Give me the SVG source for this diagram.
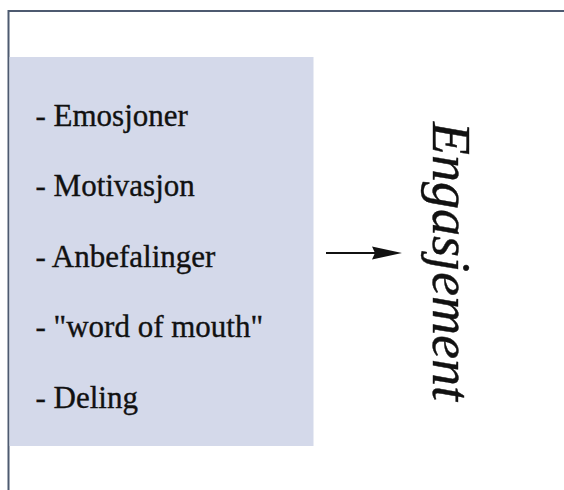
<svg xmlns="http://www.w3.org/2000/svg" width="564" height="490" viewBox="0 0 564 490">
  <style>
    .item { font-family: "Liberation Serif", "Times New Roman", serif; font-size: 31px; fill: #111111; stroke: #111111; stroke-width: 0.35; }
    .title { font-family: "Liberation Serif", "Times New Roman", serif; font-size: 54px; font-style: italic; fill: #111111; stroke: #111111; stroke-width: 0.4; }
    .frame { stroke: #4d5a70; stroke-width: 2; fill: none; }
  </style>
  <rect x="0" y="0" width="564" height="490" fill="#ffffff"/>
  <!-- outer frame: top and left edges -->
  <path class="frame" d="M8.5 490 V11 H564"/>
  <g id="factors">
    <rect x="9.5" y="57" width="304" height="389" fill="#d4d9ea"/>
    <text class="item" x="35.5" y="125.5">- Emosjoner</text>
    <text class="item" x="35.5" y="196">- Motivasjon</text>
    <text class="item" x="35.5" y="266.5">- Anbefalinger</text>
    <text class="item" x="35.5" y="337">- "word of mouth"</text>
    <text class="item" x="35.5" y="407.5">- Deling</text>
  </g>
  <g id="connectors">
    <line x1="326" y1="253" x2="378" y2="253" stroke="#111111" stroke-width="1.8"/>
    <path d="M372 246.5 L402 253 L372 259.5 L375 253 Z" fill="#111111"/>
  </g>
  <g id="engasjement">
    <text class="title" transform="translate(433 122) rotate(90)">Engasjement</text>
  </g>
</svg>
